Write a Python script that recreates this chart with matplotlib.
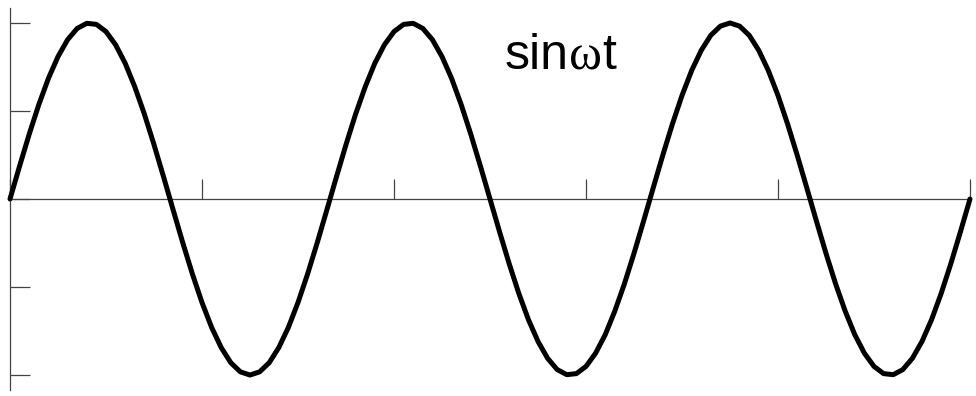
import matplotlib
matplotlib.use("Agg")
import matplotlib.pyplot as plt
import numpy as np

# sample index (100 steps over three periods) and the value read at each step
first_half = [0.0, 0.187, 0.368, 0.536, 0.685, 0.809, 0.905, 0.969, 0.998, 0.992,
              0.951, 0.876, 0.771, 0.637, 0.482, 0.309, 0.125, -0.063, -0.249, -0.426,
              -0.588, -0.729, -0.844, -0.930, -0.982, -1.0, -0.982, -0.930, -0.844, -0.729,
              -0.588, -0.426, -0.249, -0.063, 0.125, 0.309, 0.482, 0.637, 0.771, 0.876,
              0.951, 0.992, 0.998, 0.969, 0.905, 0.809, 0.685, 0.536, 0.368, 0.187]
second_half = [0.0, -0.187, -0.368, -0.536, -0.685, -0.809, -0.905, -0.969, -0.998, -0.992,
               -0.951, -0.876, -0.771, -0.637, -0.482, -0.309, -0.125, 0.063, 0.249, 0.426,
               0.588, 0.729, 0.844, 0.930, 0.982, 1.0, 0.982, 0.930, 0.844, 0.729,
               0.588, 0.426, 0.249, 0.063, -0.125, -0.309, -0.482, -0.637, -0.771, -0.876,
               -0.951, -0.992, -0.998, -0.969, -0.905, -0.809, -0.685, -0.536, -0.368, -0.187,
               0.0]
y_vals = first_half + second_half
x_vals = list(range(len(y_vals)))

x_ticks = [0, 20, 40, 60, 80, 100]
y_ticks = [-1.0, -0.5, 0.0, 0.5, 1.0]
label_parts = ["sin", "\u03c9", "t"]

plt.rcParams['font.family'] = ['Liberation Sans', 'DejaVu Sans']

W, H = 976, 396
fig = plt.figure(figsize=(W / 100, H / 100), dpi=100)
# axes box: x from px 10 to 970, y from px 8 to 390
ax = fig.add_axes([10 / W, (H - 390) / H, 960 / W, 382 / H])
ax.set_xlim(0, 100)
ax.set_ylim(-1.085, 1.085)

ax.plot(x_vals, y_vals, color='black', lw=3.6, solid_joinstyle='round',
        solid_capstyle='round', clip_on=False, zorder=3)

axis_col = '#444444'
for s in ['top', 'right']:
    ax.spines[s].set_visible(False)
ax.spines['bottom'].set_position(('data', 0))
ax.spines['left'].set_position(('data', 0))
for s in ['bottom', 'left']:
    ax.spines[s].set_color(axis_col)
    ax.spines[s].set_linewidth(0.9)

ax.set_xticks(x_ticks)
ax.set_yticks(y_ticks)
ax.tick_params(axis='both', direction='in', length=14.5, width=0.9,
               color=axis_col, labelbottom=False, labelleft=False)

# label: sans letters with a serif omega, placed one after another
renderer = fig.canvas.get_renderer()
x_px = 505
fams = ['Liberation Sans', 'Liberation Serif', 'Liberation Sans']
for part, fam in zip(label_parts, fams):
    t = fig.text(x_px / W, (H - 69) / H, part, fontsize=36, va='baseline',
                 ha='left', family=[fam, 'DejaVu Sans'])
    x_px += t.get_window_extent(renderer).width

fig.savefig('out.png', dpi=100, facecolor='white')
